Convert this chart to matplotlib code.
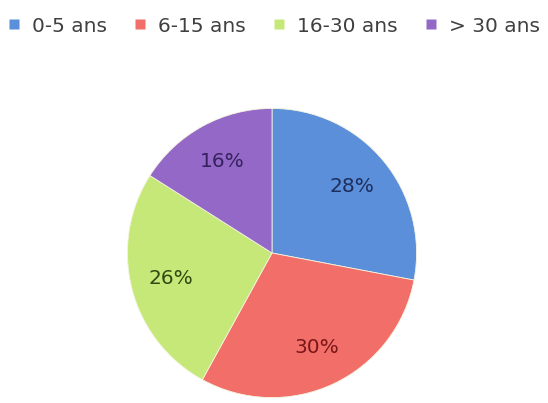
import matplotlib.pyplot as plt
from matplotlib.lines import Line2D

# data
categories = ['0-5 ans', '6-15 ans', '16-30 ans', '> 30 ans']
shares = [28, 30, 26, 16]
colors = ['#5b8fd9', '#f26e68', '#c6e878', '#9468c6']
label_colors = ['#1c2f5e', '#7a1618', '#2f4a12', '#35225e']

fig = plt.figure(figsize=(5.48, 4.03), dpi=100)

# pie box: centre around (272, 255) px, radius ~146 px
ax = fig.add_axes([126 / 548, 4 / 403, 292 / 548, 292 / 403])
wedges, texts, autotexts = ax.pie(shares, colors=colors, startangle=90,
                                  counterclock=False, autopct='%d%%',
                                  pctdistance=0.72, radius=1.0,
                                  wedgeprops=dict(edgecolor='#f4f4e0', linewidth=0.6),
                                  textprops=dict(fontsize=14.5))
for t, c in zip(autotexts, label_colors):
    t.set_color(c)
ax.set_xlim(-1.01, 1.01)
ax.set_ylim(-1.01, 1.01)

# legend on top, small squares
handles = [Line2D([0], [0], marker='s', linestyle='none', markersize=7,
                  markerfacecolor=c, markeredgecolor='none') for c in colors]
leg = fig.legend(handles, categories, loc='center', bbox_to_anchor=(0.5, 1 - 26 / 403),
                 ncol=4, frameon=False, fontsize=14.5, handlelength=0.6,
                 handletextpad=0.6, columnspacing=1.35, borderaxespad=0)
for t in leg.get_texts():
    t.set_color('#404040')

fig.savefig('out.png', dpi=100)
